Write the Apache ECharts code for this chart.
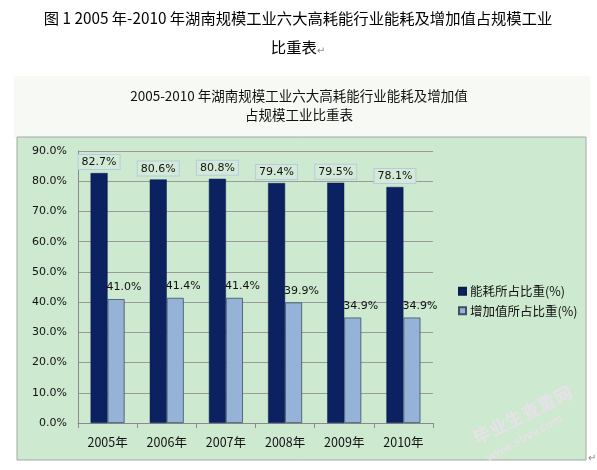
<!DOCTYPE html>
<html>
<head>
<meta charset="utf-8">
<script src="https://cdn.jsdelivr.net/npm/echarts@6/dist/echarts.min.js"></script>
<style>
html, body { margin: 0; padding: 0; background: #fff; }
#chart { width: 597px; height: 470px; }
</style>
</head>
<body>
<div id="chart"></div>
<script>
// 数据
var years = ['2005年', '2006年', '2007年', '2008年', '2009年', '2010年'];
var nengHao = [82.7, 80.6, 80.8, 79.4, 79.5, 78.1];
var zengJia = [41.0, 41.4, 41.4, 39.9, 34.9, 34.9];
var seriesNames = ['能耗所占比重(%)', '增加值所占比重(%)'];

var cjk = '"Noto Sans CJK SC", "DejaVu Sans", sans-serif';
var latin = 'Verdana, "DejaVu Sans", sans-serif';

function pct(p) { return p.value.toFixed(1) + '%'; }

var chart = echarts.init(document.getElementById('chart'));

chart.setOption({
    backgroundColor: '#fff',
    animation: false,
    textStyle: { fontFamily: latin },
    graphic: [
        // 外框浅色区域
        { type: 'rect', z: -10, shape: { x: 14, y: 76, width: 576, height: 62 },
          style: { fill: '#f7f9f5' } },
        // 绿色图表区
        { type: 'rect', z: -10, shape: { x: 17, y: 137, width: 569, height: 323 },
          style: { fill: '#cde9cf', stroke: '#a4a8a4', lineWidth: 1 } },
        { type: 'text', x: 588, y: 453,
          style: { text: '↵', fill: '#888', font: '10px sans-serif' } },
        // 水印
        { type: 'text', x: 478, y: 447, rotation: 0.46, z: 50,
          style: { text: '毕业生查重网', fill: 'rgba(236,224,236,0.8)',
                   font: 'bold 18px "Noto Sans CJK SC"', textVerticalAlign: 'bottom' } },
        { type: 'text', x: 490, y: 464, rotation: 0.5, z: 50,
          style: { text: 'www.sbvv.com', fill: 'rgba(236,224,236,0.8)',
                   font: 'bold 12px sans-serif', textVerticalAlign: 'bottom' } }
    ],
    title: [{
        text: '图 1 2005 年-2010 年湖南规模工业六大高耗能行业能耗及增加值占规模工业',
        left: 293, top: 6, textAlign: 'center',
        textStyle: { fontFamily: cjk, fontSize: 15.3, fontWeight: 'normal', color: '#000' }
    }, {
        text: '比重表{r|↵}',
        left: 293, top: 34, textAlign: 'center',
        textStyle: { fontFamily: cjk, fontSize: 15.3, fontWeight: 'normal', color: '#000',
                     rich: { r: { fontSize: 10, color: '#888', padding: [6, 0, 0, 0] } } }
    }, {
        text: '2005-2010 年湖南规模工业六大高耗能行业能耗及增加值',
        left: 294, top: 84, textAlign: 'center',
        textStyle: { fontFamily: cjk, fontSize: 13.5, fontWeight: 'normal', color: '#111' }
    }, {
        text: '占规模工业比重表',
        left: 294, top: 103, textAlign: 'center',
        textStyle: { fontFamily: cjk, fontSize: 13.5, fontWeight: 'normal', color: '#111' }
    }],
    legend: {
        orient: 'vertical',
        left: 453, top: 280,
        itemWidth: 7, itemHeight: 7, itemGap: 7,
        icon: 'rect',
        textStyle: { fontFamily: cjk, fontSize: 12.5, color: '#111', padding: [0, 0, 0, -1] },
        data: seriesNames
    },
    grid: { left: 78, right: 164, top: 151, bottom: 47 },
    xAxis: {
        type: 'category',
        data: years,
        axisLine: { lineStyle: { color: '#8a8a8a' } },
        axisTick: { show: true, length: 5, lineStyle: { color: '#8a8a8a' } },
        axisLabel: { fontFamily: cjk, fontSize: 12.5, color: '#111', margin: 13 }
    },
    yAxis: {
        type: 'value',
        min: 0, max: 90, interval: 10,
        axisLine: { show: true, lineStyle: { color: '#8a8a8a' } },
        axisTick: { show: false },
        splitLine: { lineStyle: { color: '#9a9a9a' } },
        axisLabel: { fontSize: 11, color: '#111', margin: 11, formatter: function (v) { return v.toFixed(1) + '%'; } }
    },
    series: [{
        name: seriesNames[0],
        type: 'bar',
        data: nengHao,
        barWidth: 17,
        barGap: '0%',
        itemStyle: { color: '#0b2160', borderColor: '#0a1d50', borderWidth: 0.5 },
        label: {
            show: true, position: 'top', distance: 4,
            fontSize: 11, color: '#111',
            backgroundColor: '#d2ead6', borderColor: '#b6cbe3', borderWidth: 1,
            padding: [2, 3, 1, 3],
            formatter: pct
        }
    }, {
        name: seriesNames[1],
        type: 'bar',
        data: zengJia,
        barWidth: 17,
        itemStyle: { color: '#95b3d7', borderColor: '#3f4f66', borderWidth: 0.8 },
        label: {
            show: true, position: 'top', distance: 6, offset: [8, 0],
            fontSize: 11, color: '#111',
            formatter: pct
        }
    }]
});
</script>
</body>
</html>
